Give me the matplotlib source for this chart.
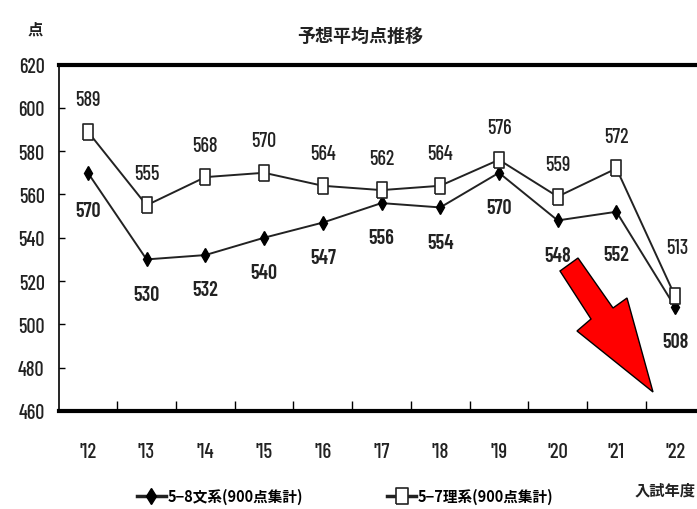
import matplotlib
matplotlib.use("Agg")
import matplotlib.pyplot as plt
from matplotlib.lines import Line2D
from matplotlib.patches import Polygon
from matplotlib import font_manager

# --- data -------------------------------------------------------------
years = ["'12", "'13", "'14", "'15", "'16", "'17", "'18", "'19", "'20", "'21", "'22"]
bunkei = [570, 530, 532, 540, 547, 556, 554, 570, 548, 552, 508]   # 5-8 文系
rikei = [589, 555, 568, 570, 564, 562, 564, 576, 559, 572, 513]    # 5-7 理系
y_ticks = [460, 480, 500, 520, 540, 560, 580, 600, 620]

title = "予想平均点推移"
y_unit = "点"
x_name = "入試年度"
name_bunkei = "5−8文系(900点集計)"
name_rikei = "5−7理系(900点集計)"

# --- fonts --------------------------------------------------------------
names = {f.name for f in font_manager.fontManager.ttflist}
narrow = next((n for n in ("Barlow Condensed", "Roboto Condensed", "PT Sans Narrow")
               if n in names), "DejaVu Sans")
num_font = [narrow, "DejaVu Sans"]
jp_font = ["Noto Sans CJK JP", "DejaVu Sans"]

ink = "#222222"

W, H = 697, 510
fig = plt.figure(figsize=(W / 100, H / 100), dpi=100)
ax = fig.add_axes([58.5 / W, 1 - 412 / H, 646 / W, 346.5 / H])

x = list(range(len(years)))
ax.plot(x, bunkei, color=ink, lw=1.4, marker="d", ms=7.5, mfc="black", mec="black", zorder=3)
sq = [(-0.33, -0.5), (0.33, -0.5), (0.33, 0.5), (-0.33, 0.5), (-0.33, -0.5)]
ax.plot(x, rikei, color=ink, lw=1.4, marker=sq, ms=11, mfc="white", mec=ink, mew=1.2, zorder=4)

ax.set_xlim(-0.5, len(years) - 0.5)
ax.set_ylim(460, 620)
ax.set_yticks(y_ticks)
ax.set_yticklabels([str(v) for v in y_ticks], fontfamily=num_font, fontsize=14.5,
                   fontweight=500, color=ink)
ax.set_xticks(x)
ax.set_xticklabels(years, fontfamily=num_font, fontsize=15, fontweight=500, color=ink)
ax.set_xticks([i + 0.5 for i in x[:-1]], minor=True)

ax.tick_params(axis="y", direction="in", length=4, width=1, pad=10)
ax.tick_params(axis="x", which="major", length=0, pad=22)
ax.tick_params(axis="x", which="minor", direction="in", length=7, width=1)

for side in ("top", "bottom"):
    ax.spines[side].set_linewidth(3.0)
    ax.spines[side].set_color("black")
ax.spines["left"].set_linewidth(1.2)
ax.spines["right"].set_visible(False)

# value labels: science above, humanities (bold) below
for i, v in enumerate(rikei):
    dy, dx = 23, 0
    if i == len(rikei) - 1:
        dy, dx = 35, 1.5
    ax.annotate(str(v), (i, v), xytext=(dx, dy), textcoords="offset points",
                ha="center", va="center", fontsize=14.5, fontweight=500,
                fontfamily=num_font, color=ink)
for i, v in enumerate(bunkei):
    dy = -25
    if i == 0:
        dy = -27
    if i == 9:
        dy = -31
    ax.annotate(str(v), (i, v), xytext=(0, dy), textcoords="offset points",
                ha="center", va="center", fontsize=14.5, fontweight=600,
                fontfamily=num_font, color=ink)

# titles
fig.text(360 / W, 1 - 36 / H, title, ha="center", va="center", fontsize=13,
         fontweight="bold", fontfamily=jp_font, color=ink)
fig.text(35 / W, 1 - 30 / H, y_unit, ha="center", va="center", fontsize=11,
         fontweight="bold", fontfamily=jp_font, color=ink)
fig.text(696 / W, 1 - 491 / H, x_name, ha="right", va="center", fontsize=11,
         fontweight="bold", fontfamily=jp_font, color=ink)

# legend
handles = [
    Line2D([], [], color=ink, lw=2.5, marker="d", ms=8, mfc="black", mec="black"),
    Line2D([], [], color=ink, lw=2.5, marker=sq, ms=12, mfc="white", mec=ink, mew=1.2),
]
fig.legend(handles, [name_bunkei, name_rikei], loc="center", ncol=2,
           bbox_to_anchor=(345 / W, 1 - 497 / H), frameon=False, handlelength=2.0,
           handletextpad=0.1, columnspacing=5.8,
           prop=font_manager.FontProperties(family=jp_font, size=10.5, weight="bold"))

# red downward arrow
arrow_px = [(560, 272), (578, 259), (613, 309), (627, 299), (653, 393), (577, 332), (591, 320)]
arrow = Polygon([(px / W, 1 - py / H) for px, py in arrow_px], closed=True,
                transform=fig.transFigure, facecolor="#ff0000", edgecolor="black",
                lw=1.0, zorder=10)
fig.patches.append(arrow)

fig.savefig("out.png", dpi=100)
